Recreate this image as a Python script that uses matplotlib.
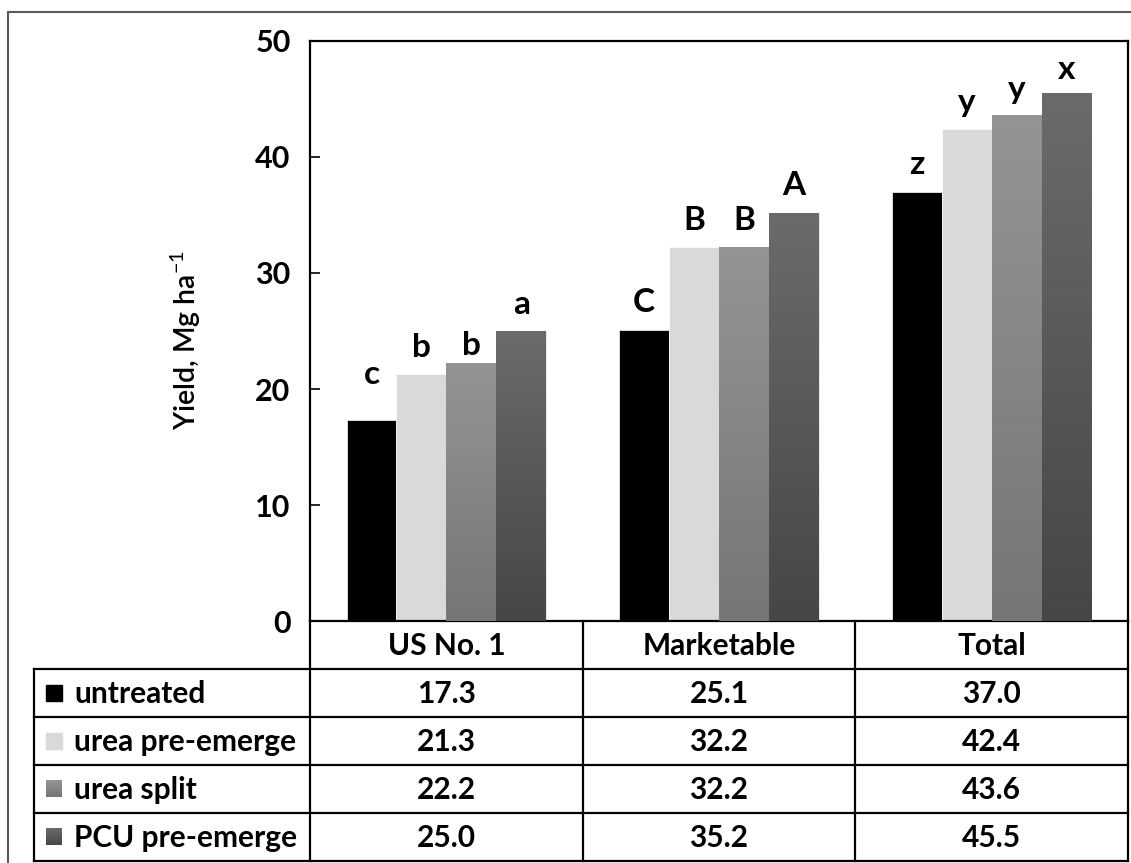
import numpy as np
import matplotlib.pyplot as plt
from matplotlib.colors import LinearSegmentedColormap
from matplotlib.lines import Line2D
from matplotlib.patches import Rectangle

plt.rcParams['font.family'] = ['Lato', 'DejaVu Sans']
plt.rcParams['mathtext.fontset'] = 'custom'
plt.rcParams['mathtext.rm'] = 'Lato'
plt.rcParams['mathtext.it'] = 'Lato:italic'
plt.rcParams['mathtext.bf'] = 'Lato:bold'

# yield data (Mg/ha) per grade
categories = ['US No. 1', 'Marketable', 'Total']
treatments = ['untreated', 'urea pre-emerge', 'urea split', 'PCU pre-emerge']
untreated = [17.3, 25.1, 37.0]
urea_pre = [21.3, 32.2, 42.4]
urea_split = [22.2, 32.2, 43.6]
pcu_pre = [25.0, 35.2, 45.5]
series = [untreated, urea_pre, urea_split, pcu_pre]

# mean separation letters
letters_untreated = ['c', 'C', 'z']
letters_urea_pre = ['b', 'B', 'y']
letters_urea_split = ['b', 'B', 'y']
letters_pcu = ['a', 'A', 'x']
letters = [letters_untreated, letters_urea_pre, letters_urea_split, letters_pcu]

# how far above each bar its letter sits (y units)
label_lift = [[3.1, 1.5, 1.5], [1.5, 1.5, 1.5], [0.7, 1.5, 1.4], [1.5, 1.5, 1.2]]

# fill (top colour, bottom colour)
fills = [('#000000', '#000000'), ('#d9d9d9', '#d9d9d9'),
         ('#949494', '#767676'), ('#6b6b6b', '#464646')]

W, H = 1131, 863
fig = plt.figure(figsize=(W / 100, H / 100), dpi=100)

ax = fig.add_axes([310 / W, 1 - 621 / H, 818 / W, 580 / H])
tab = fig.add_axes([34 / W, 1 - 861 / H, 1094 / W, 240 / H])

LW = 1.6
bw = 0.183
xc = np.arange(len(categories))


def grad_fill(a, rect, top, bottom):
    cmap = LinearSegmentedColormap.from_list('g', [bottom, top])
    x0, y0, w, h = rect
    im = a.imshow(np.linspace(0, 1, 256).reshape(-1, 1), cmap=cmap, origin='lower',
                  extent=(x0, x0 + w, y0, y0 + h), aspect='auto', zorder=3,
                  interpolation='bilinear')
    return im


for i, (vals, (top, bot)) in enumerate(zip(series, fills)):
    xs = xc + (i - 1.5) * bw
    bars = ax.bar(xs, vals, bw, color=top, edgecolor='white', linewidth=0.5, zorder=2)
    if top != bot:
        for b in bars:
            im = grad_fill(ax, (b.get_x(), 0, b.get_width(), b.get_height()), top, bot)
            im.set_clip_path(b)
    for x, v, s, d in zip(xs, vals, letters[i], label_lift[i]):
        ax.text(x, v + d, s, ha='center', va='baseline', fontsize=24, fontweight='bold')

ax.set_xlim(-0.5, 2.5)
ax.set_ylim(0, 50)
ax.set_xticks([])
ax.set_yticks(np.arange(0, 51, 10))
ax.tick_params(axis='y', direction='in', length=7, width=1.2, pad=14, labelsize=22)
for t in ax.get_yticklabels():
    t.set_fontweight('bold')
for sp in ax.spines.values():
    sp.set_linewidth(LW)
ax.set_ylabel('Yield, Mg ha$^{-1}$', fontsize=20.5, fontweight='semibold')
ax.yaxis.set_label_coords(-0.131, 0.485)

# data table under the plot
unit = 818 / 3
xl = -0.5 - 276 / unit
tab.set_xlim(xl, 2.5)
tab.set_ylim(5, 0)
tab.axis('off')
kw = dict(color='black', lw=LW, solid_capstyle='projecting', clip_on=False)
for r in range(1, 6):
    tab.plot([xl, 2.5], [r, r], **kw)
tab.plot([xl, xl], [1, 5], **kw)
for b in [-0.5, 0.5, 1.5, 2.5]:
    tab.plot([b, b], [0, 5], **kw)

fs = 21.5
for j, c in enumerate(categories):
    tab.text(j, 0.52, c, ha='center', va='center', fontsize=fs, fontweight='bold')
sw = 16 / unit
for i, (name, vals, (top, bot)) in enumerate(zip(treatments, series, fills)):
    yr = i + 1.5
    x0 = xl + 12 / unit
    if top == bot:
        tab.add_patch(Rectangle((x0, yr - 0.17), sw, 0.34, color=top, zorder=3))
    else:
        grad_fill(tab, (x0, yr + 0.17, sw, -0.34), top, bot)
    tab.text(xl + 40 / unit, yr + 0.02, name, ha='left', va='center', fontsize=fs,
             fontweight='bold')
    for j, v in enumerate(vals):
        tab.text(j, yr + 0.02, f'{v:.1f}', ha='center', va='center', fontsize=fs,
                 fontweight='bold')
tab.set_xlim(xl, 2.5)
tab.set_ylim(5, 0)

# outer frame
fig.add_artist(Line2D([8 / W, 8 / W], [0, 1 - 12 / H], color='#5a5a5a', lw=1.5))
fig.add_artist(Line2D([8 / W, 1], [1 - 12 / H, 1 - 12 / H], color='#5a5a5a', lw=1.5))

fig.savefig('out.png', dpi=100)
